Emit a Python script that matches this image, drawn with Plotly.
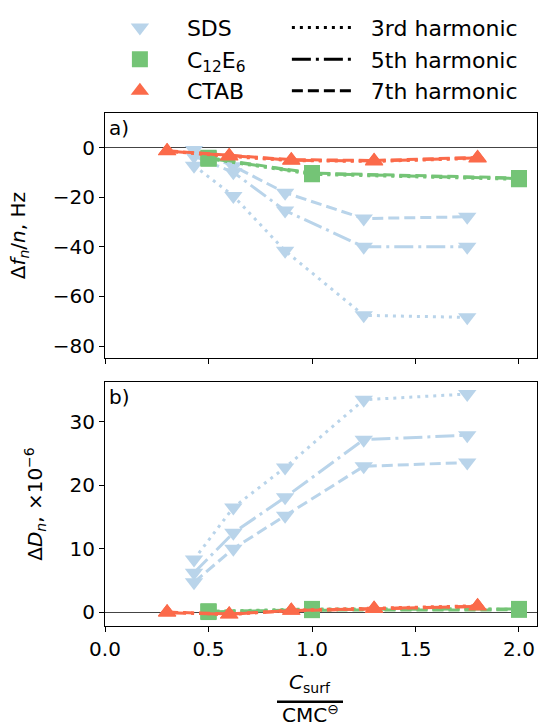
import plotly.graph_objects as go

# surfactant concentration relative to the CMC
x_sds = [0.43, 0.62, 0.87, 1.25, 1.75]
x_c12e6 = [0.5, 1.0, 2.0]
x_ctab = [0.3, 0.6, 0.9, 1.3, 1.8]

harmonics = ["3rd harmonic", "5th harmonic", "7th harmonic"]
surfactants = ["SDS", "C<sub>12</sub>E<sub>6</sub>", "CTAB"]

# normalised frequency shift, Hz
df_sds_3 = [-7.3, -19.5, -41.6, -67.6, -68.4]
df_sds_5 = [-3.5, -10.0, -25.4, -40.0, -40.0]
df_sds_7 = [-1.0, -7.5, -18.2, -28.6, -27.9]
df_c12e6_3 = [-4.5, -10.8, -12.8]
df_c12e6_5 = [-4.3, -10.5, -12.5]
df_c12e6_7 = [-4.1, -10.3, -12.3]
df_ctab_3 = [-1.5, -3.6, -5.3, -5.6, -4.4]
df_ctab_5 = [-1.4, -3.4, -5.1, -5.4, -4.2]
df_ctab_7 = [-1.3, -3.2, -4.9, -5.2, -4.0]

# dissipation shift, x1e-6
dd_sds_3 = [8.3, 16.5, 22.8, 33.5, 34.4]
dd_sds_5 = [6.2, 12.5, 18.1, 27.2, 27.9]
dd_sds_7 = [4.7, 10.0, 15.2, 23.0, 23.6]
dd_c12e6_3 = [0.1, 0.5, 0.45]
dd_c12e6_5 = [0.0, 0.4, 0.5]
dd_c12e6_7 = [0.1, 0.3, 0.35]
dd_ctab_3 = [0.0, -0.4, 0.3, 0.6, 1.0]
dd_ctab_5 = [-0.1, -0.35, 0.25, 0.5, 0.9]
dd_ctab_7 = [0.0, -0.3, 0.2, 0.5, 0.9]

colors = {"SDS": "#b9d4ea", "C12E6": "#74c476", "CTAB": "#fb6a4a"}
symbols = {"SDS": "triangle-down", "C12E6": "square", "CTAB": "triangle-up"}
msize = {"SDS": 16, "C12E6": 16, "CTAB": 16}
dashes = ["3px,5px", "19px,5px,3px,5px", "11px,5px"]

series = [
    ("SDS", x_sds, [df_sds_3, df_sds_5, df_sds_7], [dd_sds_3, dd_sds_5, dd_sds_7]),
    ("C12E6", x_c12e6, [df_c12e6_3, df_c12e6_5, df_c12e6_7],
     [dd_c12e6_3, dd_c12e6_5, dd_c12e6_7]),
    ("CTAB", x_ctab, [df_ctab_3, df_ctab_5, df_ctab_7], [dd_ctab_3, dd_ctab_5, dd_ctab_7]),
]

FONT = "DejaVu Sans"
NBSP = "\u00a0"
fig = go.Figure()

for name, xs, df_list, dd_list in series:
    for h, (yf, yd) in enumerate(zip(df_list, dd_list)):
        for yv, ax in ((yf, "y"), (yd, "y2")):
            fig.add_trace(go.Scatter(
                x=xs, y=yv, xaxis="x" if ax == "y" else "x2", yaxis=ax,
                mode="lines+markers", showlegend=False,
                line=dict(color=colors[name], width=3, dash=dashes[h]),
                marker=dict(symbol=symbols[name], size=msize[name],
                            color=colors[name], line=dict(width=0)),
            ))

# legend entries: surfactants (markers) and harmonics (line styles)
for key, label in zip(["SDS", "C12E6", "CTAB"], surfactants):
    fig.add_trace(go.Scatter(
        x=[None], y=[None], mode="markers", name=label, legend="legend",
        marker=dict(symbol=symbols[key], size=msize[key], color=colors[key]),
    ))
for h, label in enumerate(harmonics):
    fig.add_trace(go.Scatter(
        x=[None], y=[None], mode="lines", name=NBSP * 2 + label, legend="legend2",
        line=dict(color="black", width=3, dash=dashes[h]),
    ))

axis_common = dict(
    showline=True, linecolor="black", linewidth=1.2, mirror=True,
    ticks="outside", ticklen=5, tickwidth=1.2, tickcolor="black",
    showgrid=False, tickfont=dict(family=FONT, size=20, color="black"),
)

fig.update_layout(
    width=539, height=724,
    margin=dict(l=105, r=2, t=113, b=98),
    plot_bgcolor="white", paper_bgcolor="white",
    font=dict(family=FONT, size=20, color="black"),
    xaxis=dict(domain=[0, 1], anchor="y", range=[0, 2.087],
               tickvals=[0, 0.5, 1.0, 1.5, 2.0], showticklabels=False,
               zeroline=False, **axis_common),
    yaxis=dict(domain=[0.5218, 1], anchor="x", range=[-84.9, 13.9],
               tickvals=[-80, -60, -40, -20, 0],
               zeroline=True, zerolinecolor="#444", zerolinewidth=1,
               title=dict(text="Δ<i>f</i><sub><i>n</i></sub>/<i>n</i>, Hz",
                          font=dict(family=FONT, size=20), standoff=21),
               **axis_common),
    xaxis2=dict(domain=[0, 1], anchor="y2", range=[0, 2.087],
                tickvals=[0, 0.5, 1.0, 1.5, 2.0], tickformat=".1f",
                zeroline=False, **axis_common),
    yaxis2=dict(domain=[0, 0.4756], anchor="x2", range=[-2.2, 36.3],
                tickvals=[0, 10, 20, 30],
                zeroline=True, zerolinecolor="#444", zerolinewidth=1,
                title=dict(text="Δ<i>D</i><sub><i>n</i></sub>, ×10<sup>−6</sup>",
                           font=dict(family=FONT, size=20), standoff=21),
                **axis_common),
    legend=dict(x=-0.028, y=1.207, xanchor="left", yanchor="top",
                bgcolor="rgba(0,0,0,0)", font=dict(family=FONT, size=22),
                itemwidth=84, tracegroupgap=0),
    legend2=dict(x=0.421, y=1.207, xanchor="left", yanchor="top",
                 bgcolor="rgba(0,0,0,0)", font=dict(family=FONT, size=22),
                 itemwidth=60, tracegroupgap=0),
)

# panel labels
for ref, lab in (("", "a)"), ("2", "b)")):
    fig.add_annotation(text=lab, xref=f"x{ref} domain", yref=f"y{ref} domain",
                       x=0, y=1, xanchor="left", yanchor="top", xshift=2, yshift=-1,
                       showarrow=False, font=dict(family=FONT, size=20))

# x-axis label as a fraction
xc = (310 - 105) / 432
fig.add_annotation(text="<i>C</i><sub>surf</sub>", xref="paper", yref="paper",
                   x=xc, y=(626 - 683) / 513, xanchor="center", yanchor="middle",
                   showarrow=False, font=dict(family=FONT, size=20))
fig.add_shape(type="line", xref="paper", yref="paper",
              x0=(277 - 105) / 432, x1=(343 - 105) / 432,
              y0=(626 - 701.7) / 513, y1=(626 - 701.7) / 513,
              line=dict(color="black", width=2.5))
fig.add_annotation(text="CMC<sup>⊖</sup>", xref="paper", yref="paper",
                   x=xc, y=(626 - 714) / 513, xanchor="center", yanchor="middle",
                   showarrow=False, font=dict(family=FONT, size=20))

fig.write_html("out.html")
